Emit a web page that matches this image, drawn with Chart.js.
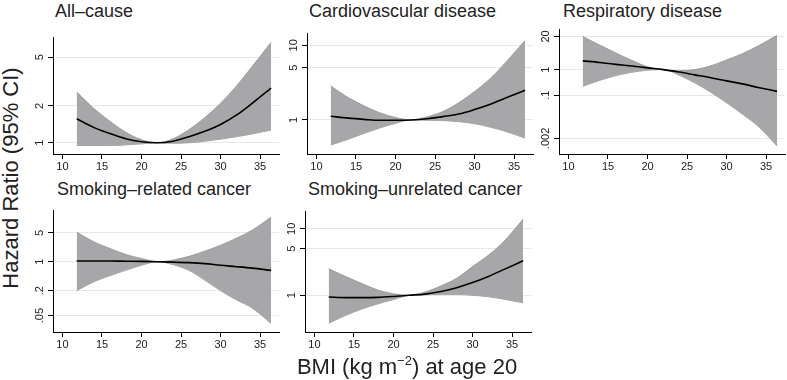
<!DOCTYPE html>
<html lang="en">
<head>
    <meta charset="UTF-8">
    <title>BMI at age 20 and mortality</title>
    <script src="https://cdn.jsdelivr.net/npm/chart.js"></script>
    <style>
        body { margin: 0; background: #fff; }
        #figure { position: relative; width: 787px; height: 380px; overflow: hidden;
                  font-family: "Liberation Sans", Arial, sans-serif; color: #222; }
        #figure canvas { position: absolute; }
        .panel-title { position: absolute; font-size: 18px; line-height: 18px; white-space: nowrap; }
        #yTitle { position: absolute; left: 11px; top: 178px; font-size: 22px; line-height: 22px; white-space: nowrap;
                  transform: translate(-50%, -50%) rotate(-90deg); }
        #xTitle { position: absolute; left: 407px; top: 356px; font-size: 22px; line-height: 22px; white-space: nowrap;
                  transform: translateX(-50%); }
        #xTitle sup { font-size: 13px; line-height: 0; vertical-align: 9px; }
    </style>
</head>
<body>

<div id="figure">
    <div class="panel-title" style="left:55px; top:2px">All–cause</div>
    <div class="panel-title" style="left:309px; top:2px">Cardiovascular disease</div>
    <div class="panel-title" style="left:563px; top:2px">Respiratory disease</div>
    <div class="panel-title" style="left:57px; top:180px">Smoking–related cancer</div>
    <div class="panel-title" style="left:308px; top:180px">Smoking–unrelated cancer</div>

    <canvas id="allCause" width="260" height="151" style="left:23px; top:25px"></canvas>
    <canvas id="cardio" width="260" height="151" style="left:277px; top:25px"></canvas>
    <canvas id="resp" width="260" height="151" style="left:529px; top:25px"></canvas>
    <canvas id="smkRelated" width="260" height="151" style="left:23px; top:203px"></canvas>
    <canvas id="smkUnrelated" width="260" height="151" style="left:275px; top:203px"></canvas>

    <div id="yTitle">Hazard Ratio (95% CI)</div>
    <div id="xTitle">BMI (kg m<sup>−2</sup>) at age 20</div>
</div>

<script>
    // BMI grid shared by every panel
    const bmi = [11.8, 14, 16, 18, 20, 22, 24, 26, 28, 30, 32, 34, 36.4];
    const xTicks = [10, 15, 20, 25, 30, 35];

    // hazard ratio, lower and upper 95% CI
    const allHr = [1.57, 1.33, 1.19, 1.08, 1.02, 1.0, 1.03, 1.12, 1.24, 1.41, 1.68, 2.1, 2.8];
    const allLo = [0.95, 0.95, 0.95, 0.96, 0.98, 1.0, 0.99, 1.0, 1.03, 1.07, 1.12, 1.18, 1.27];
    const allHi = [2.6, 1.9, 1.5, 1.22, 1.06, 1.0, 1.08, 1.28, 1.6, 2.1, 2.9, 4.2, 6.6];

    const cvdHr = [1.12, 1.06, 1.02, 0.99, 0.99, 1.0, 1.04, 1.11, 1.2, 1.38, 1.63, 1.98, 2.5];
    const cvdLo = [0.46, 0.55, 0.66, 0.78, 0.9, 1.0, 0.99, 0.98, 0.95, 0.89, 0.8, 0.7, 0.57];
    const cvdHi = [2.86, 2.0, 1.55, 1.25, 1.08, 1.0, 1.1, 1.3, 1.7, 2.4, 3.6, 6.0, 11.6];

    const respHr = [2.2, 1.9, 1.6, 1.38, 1.17, 1.0, 0.8, 0.62, 0.48, 0.36, 0.275, 0.2, 0.14];
    const respLo = [0.22, 0.38, 0.58, 0.78, 0.94, 1.0, 0.6, 0.3, 0.13, 0.05, 0.018, 0.006, 0.001];
    const respHi = [20, 9, 4.5, 2.3, 1.3, 1.0, 0.9, 1.0, 1.4, 2.4, 4.2, 8.5, 22];

    const smkHr = [1.04, 1.04, 1.04, 1.03, 1.02, 1.0, 0.98, 0.95, 0.9, 0.82, 0.76, 0.7, 0.62];
    const smkLo = [0.2, 0.33, 0.46, 0.62, 0.82, 1.0, 0.85, 0.62, 0.36, 0.2, 0.12, 0.076, 0.032];
    const smkHi = [5.2, 3.0, 2.1, 1.5, 1.2, 1.0, 1.1, 1.35, 1.8, 2.5, 3.7, 5.8, 12];

    const unrHr = [0.94, 0.92, 0.92, 0.93, 0.96, 1.0, 1.04, 1.14, 1.3, 1.55, 1.92, 2.45, 3.3];
    const unrLo = [0.38, 0.5, 0.62, 0.74, 0.86, 1.0, 1.02, 1.03, 1.03, 1.0, 0.95, 0.87, 0.77];
    const unrHi = [2.5, 1.9, 1.5, 1.2, 1.05, 1.0, 1.12, 1.38, 1.8, 2.7, 4.0, 6.5, 14];

    // y tick values per panel
    const allTicks = [1, 2, 5];
    const cvdTicks = [1, 5, 10];
    const respTicks = [0.002, 0.1, 1, 20];
    const smkTicks = [0.05, 0.2, 1, 5];
    const unrTicks = [1, 5, 10];

    Chart.defaults.font.family = '"Liberation Sans", Arial, sans-serif';
    Chart.defaults.font.size = 11;
    Chart.defaults.color = '#333';

    const measure = document.createElement('canvas').getContext('2d');
    measure.font = '11px "Liberation Sans"';

    function fmt(v) {
        return String(v).replace(/^0\./, '.');
    }

    // rotated labels are centred on (right - tick - padding - widest/2)
    function yPadding(ticks) {
        let widest = Math.max(...ticks.map(t => measure.measureText(fmt(t)).width));
        return 13.5 - 5 - widest / 2;
    }

    function pts(ys) {
        return bmi.map((x, i) => ({x: x, y: ys[i]}));
    }

    function makePanel(id, hr, lo, hi, yMin, yMax, yTicks) {
        let ctx = document.getElementById(id).getContext('2d');
        // dataset 0 is drawn last, so the estimate line sits on top of the band
        return new Chart(ctx, {
            type: 'line',
            data: {
                datasets: [
                    {
                        data: pts(hr),
                        borderColor: '#000',
                        borderWidth: 1.6,
                        fill: false,
                    },
                    {
                        data: pts(hi),
                        borderColor: '#8f8f91',
                        borderWidth: 0.8,
                        backgroundColor: '#a7a7a9',
                        fill: '+1',
                    },
                    {
                        data: pts(lo),
                        borderColor: '#8f8f91',
                        borderWidth: 0.8,
                        fill: false,
                    },
                ],
            },
            options: {
                responsive: false,
                animation: false,
                devicePixelRatio: 1,
                layout: {padding: {top: 2, right: 4, left: 0, bottom: 0}},
                elements: {
                    point: {radius: 0},
                    line: {cubicInterpolationMode: 'monotone'},
                },
                plugins: {
                    legend: {display: false},
                    tooltip: {enabled: false},
                },
                scales: {
                    x: {
                        type: 'linear',
                        min: 8.8,
                        max: 37.4,
                        afterBuildTicks: axis => { axis.ticks = xTicks.map(v => ({value: v})); },
                        afterFit: axis => { axis.height = 22; },
                        ticks: {maxRotation: 0, autoSkip: false, padding: 1, color: '#222'},
                        grid: {drawOnChartArea: false, tickLength: 5, tickColor: '#000'},
                        border: {color: '#000', width: 1},
                    },
                    y: {
                        type: 'logarithmic',
                        min: yMin,
                        max: yMax,
                        afterBuildTicks: axis => { axis.ticks = yTicks.map(v => ({value: v})); },
                        afterFit: axis => { axis.width = 30; },
                        ticks: {
                            minRotation: 90,
                            maxRotation: 90,
                            crossAlign: 'center',
                            autoSkip: false,
                            color: '#222',
                            padding: yPadding(yTicks),
                            callback: v => fmt(v),
                        },
                        grid: {color: '#e8e8e8', lineWidth: 1, tickLength: 5, tickColor: '#000'},
                        border: {color: '#000', width: 1},
                    },
                },
            },
        });
    }

    makePanel('allCause', allHr, allLo, allHi, 0.81, 7.3, allTicks);
    makePanel('cardio', cvdHr, cvdLo, cvdHi, 0.35, 14.2, cvdTicks);
    makePanel('resp', respHr, respLo, respHi, 0.00049, 37.7, respTicks);
    makePanel('smkRelated', smkHr, smkLo, smkHi, 0.02, 17.4, smkTicks);
    makePanel('smkUnrelated', unrHr, unrLo, unrHi, 0.28, 17.9, unrTicks);
</script>

</body>
</html>
